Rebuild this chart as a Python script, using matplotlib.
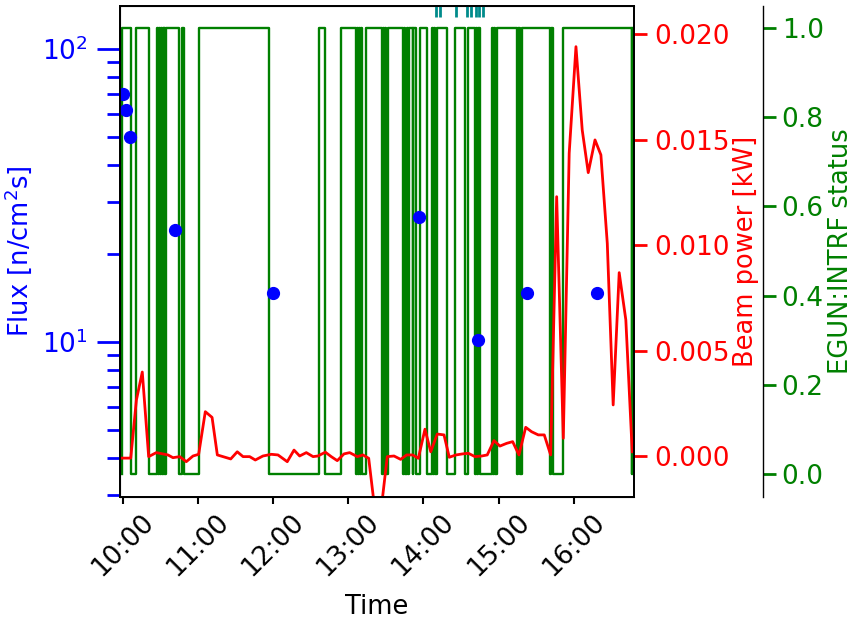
import matplotlib
matplotlib.use("Agg")
import matplotlib.pyplot as plt
import matplotlib.dates as mdates
from matplotlib.ticker import NullFormatter, LogLocator
import pandas as pd

BASE = pd.Timestamp("2023-05-10 10:00")

# Flux measurements (minutes after 10:00, n/cm^2 s)
flux_t = [0.5, 2.6, 5.8, 41.7, 119.7, 236.7, 283.7, 322.8, 378.2]
flux_v = [70.0, 61.8, 49.9, 24.1, 14.7, 26.6, 10.1, 14.7, 14.7]

# Beam power (minutes after 10:00, kW)
power_t = [-3.8, 6.4, 10.9, 15.6, 20.7, 26.8, 36.1, 40.1, 45.5, 50.7, 56.1, 60.6,
           65.9, 71.3, 75.5, 86.2, 91.4, 96.0, 101.3, 105.8, 111.9, 118.6, 123.9,
           131.3, 136.7, 141.2, 146.5, 151.9, 155.8, 161.7, 166.4, 171.2, 176.6,
           181.1, 187.2, 191.7, 196.3, 201.1, 206.3, 211.1, 216.5, 221.8, 226.6,
           231.4, 235.9, 241.2, 245.8, 251.0, 256.4, 260.6, 266.0, 271.3, 275.8,
           281.1, 286.5, 290.9, 296.3, 301.0, 306.4, 311.2, 316.2, 321.6, 326.3,
           331.6, 336.4, 341.5, 346.3, 351.6, 356.3, 361.7, 366.7, 371.5, 376.9,
           381.6, 386.7, 391.4, 396.2, 401.5, 406.6]
power_v = [-0.0001, -0.0001, 0.00265, 0.00398, -0.00003, 0.00016, 0.00005, -0.00008,
           -0.00003, -0.00027, 0.0, 0.00008, 0.0021, 0.00183, 0.00005, -0.00014,
           0.0002, -0.00003, -0.00003, -0.00019, 0.0, 0.00008, 0.00005, -0.00027,
           0.00028, 0.0, 0.00016, -0.00003, 0.0, 0.00018, -0.00003, -0.00022,
           0.0001, 0.00016, -0.00003, 0.00005, -0.00011, -0.0025, -0.0025,
           -0.00003, 0.0, -0.00016, 0.00005, 0.00005, -0.00011, 0.00127, 0.0002,
           0.00104, 0.001, -0.00006, 0.00005, 0.0001, 0.00013, -0.00003, 0.0,
           0.00005, 0.00073, 0.00047, 0.0006, 0.00068, 0.00005, 0.00136, 0.00115,
           0.001, 0.001, 0.00005, 0.01229, 0.00084, 0.01435, 0.0194, 0.01545,
           0.01343, 0.01498, 0.01427, 0.01008, 0.00242, 0.00869, 0.00645, 0.0002]

# EGUN:INTRF status changes (minutes after 10:00, new state)
status_t = [-0.96, -0.8, 6.38, 10.61, 20.59, 27.61, 28.41, 28.96, 29.76, 30.40,
            31.20, 31.84, 32.63, 33.27, 34.07, 34.79, 44.52, 46.92, 48.51, 60.48,
            116.73, 157.03, 161.66, 173.94, 186.55, 187.19, 187.90, 188.70, 189.50,
            190.30, 190.78, 194.53, 206.66, 207.69, 208.49, 209.53, 210.49, 211.92,
            223.65, 224.61, 225.65, 226.69, 227.64, 228.84, 231.39, 231.87, 234.03,
            237.22, 242.56, 246.55, 247.59, 248.78, 249.58, 250.54, 258.52, 265.14,
            273.12, 275.75, 281.10, 282.29, 283.09, 283.73, 285.09, 294.43, 295.46,
            296.66, 297.46, 298.42, 314.38, 315.41, 317.01, 318.36, 340.94, 342.14,
            343.58, 351.08, 406.13, 406.77, 407.41, 412.0]
status_v = [0, 1, 0, 1, 0, 1, 0, 1, 0, 1,
            0, 1, 0, 1, 0, 1, 0, 1, 0, 1,
            0, 1, 0, 1, 0, 1, 0, 1, 0,
            1, 0, 1, 0, 1, 0, 1, 0, 1,
            0, 1, 0, 1, 0, 1, 0, 1, 0,
            1, 0, 1, 0, 1, 0, 1, 0, 1,
            0, 1, 0, 1, 0, 1, 0, 1, 0,
            1, 0, 1, 0, 1, 0, 1, 0, 1,
            0, 1, 0, 1, 0, 0]

# Event markers at the top (minutes after 10:00)
event_t = [250.0, 253.2, 265.9, 274.7, 277.9, 281.9, 284.7, 287.5]

xlim_t = [-2.15, 408.0]


def to_time(mins):
    return [BASE + pd.Timedelta(minutes=m) for m in mins]


FS_TICK = 19
FS_LAB = 18.5
fig = plt.figure(figsize=(8.58, 6.2), dpi=100)
fig.subplots_adjust(left=0.1399, right=0.7389, bottom=0.1984, top=0.9903)
ax = fig.add_subplot(111)
ax2 = ax.twinx()
ax3 = ax.twinx()

ax3.set_zorder(1)
ax2.set_zorder(2)
ax.set_zorder(3)
ax.patch.set_visible(False)
ax2.patch.set_visible(False)

# green status
ax3.plot(to_time(status_t), status_v, drawstyle="steps-post", color="green", lw=1.7)
ax3.set_ylim(-0.0516, 1.0493)
ax3.spines["right"].set_position(("axes", 1.251))
ax3.spines["right"].set_linewidth(1.0)
ax3.tick_params(axis="y", colors="green", labelsize=FS_TICK, length=9.5, width=2, pad=4)
ax3.spines["right"].set_color("black")
ax3.set_ylabel("EGUN:INTRF status", color="green", fontsize=FS_LAB)
ax3.yaxis.set_label_coords(1.378, 0.5)

# red power
ax2.plot(to_time(power_t), power_v, color="red", lw=2)
ax2.set_ylim(-0.001943, 0.021327)
ax2.tick_params(axis="y", colors="red", labelsize=FS_TICK, length=9.5, width=2, pad=5)
ax2.set_ylabel("Beam power [kW]", color="red", fontsize=FS_LAB)
ax2.yaxis.set_label_coords(1.193, 0.5)

# blue flux
ax.plot(to_time(flux_t), flux_v, "o", color="blue", markersize=8.5)
ax.set_yscale("log")
ax.set_ylim(2.95, 140)
ax.yaxis.set_major_locator(LogLocator(base=10))
ax.yaxis.set_minor_locator(LogLocator(base=10, subs=range(2, 10)))
ax.yaxis.set_minor_formatter(NullFormatter())
ax.tick_params(axis="y", which="major", colors="blue", labelsize=FS_TICK, length=16.3, width=2, pad=7)
ax.tick_params(axis="y", which="minor", colors="blue", length=9.6, width=2)
ax.set_ylabel("Flux [n/cm$^2$s]", color="blue", fontsize=FS_LAB)
ax.yaxis.set_label_coords(-0.167, 0.5)

# events
ax.vlines(to_time(event_t), 0.978, 1.0, transform=ax.get_xaxis_transform(),
          color="darkcyan", lw=2)

ax.set_xlim(to_time(xlim_t))
ax.xaxis.set_major_locator(mdates.HourLocator())
ax.xaxis.set_major_formatter(mdates.DateFormatter("%H:%M"))
ax.tick_params(axis="x", labelsize=FS_TICK, length=5, width=1.5)
for lab in ax.get_xticklabels():
    lab.set_rotation(45)
    lab.set_ha("center")
ax.set_xlabel("Time", fontsize=FS_LAB)
ax.xaxis.set_label_coords(0.5, -0.197)

for a in (ax, ax2):
    for s in a.spines.values():
        s.set_linewidth(1.3)
        s.set_color("black")

fig.savefig("out.png", dpi=100)
